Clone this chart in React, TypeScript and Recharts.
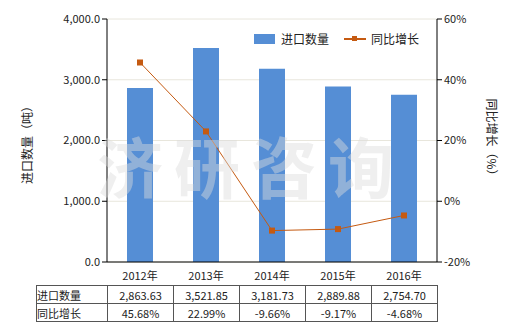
import React from "react"
import { Bar, CartesianGrid, ComposedChart, Line, XAxis, YAxis } from "recharts"

const years = ["2012年", "2013年", "2014年", "2015年", "2016年"]
const importQty = [2863.63, 3521.85, 3181.73, 2889.88, 2754.7]
const yoyGrowth = [45.68, 22.99, -9.66, -9.17, -4.68]
const qtyLabels = ["2,863.63", "3,521.85", "3,181.73", "2,889.88", "2,754.70"]
const growthLabels = ["45.68%", "22.99%", "-9.66%", "-9.17%", "-4.68%"]
const leftTicks = [0, 1000, 2000, 3000, 4000]
const rightTicks = [-20, 0, 20, 40, 60]

const data = years.map((year, i) => ({ year, qty: importQty[i], yoy: yoyGrowth[i] }))

const FONT = "'Noto Sans CJK SC', 'Noto Sans', sans-serif"
const BAR = "#558ed5"
const LINE = "#c55a11"

const SquareDot = (props: any) => {
  const { cx, cy } = props
  if (cx == null || cy == null) return null
  return <rect x={cx - 3} y={cy - 3} width={6} height={6} fill={LINE} />
}

const cellStyle: React.CSSProperties = {
  border: "1px solid #555",
  padding: 0,
  height: 17,
  textAlign: "center",
  fontSize: 11,
}

export default function App() {
  return (
    <div style={{ position: "absolute", left: 0, top: 0, width: 520, height: 330, background: "#fff", fontFamily: FONT, color: "#222" }}>
      <ComposedChart
        width={520}
        height={300}
        data={data}
        margin={{ top: 19, right: 0, left: 0, bottom: 20 }}
      >
        <CartesianGrid stroke="#e8e6dc" vertical={false} yAxisId="left" />
        <XAxis
          dataKey="year"
          height={18}
          tickLine={false}
          axisLine={{ stroke: "#000" }}
          tick={{ fill: "#222", fontSize: 11, fontFamily: FONT }}
          tickMargin={4}
        />
        <YAxis
          yAxisId="left"
          width={107}
          domain={[0, 4000]}
          ticks={leftTicks}
          tickFormatter={(v: number) => v.toLocaleString("en-US", { minimumFractionDigits: 1, maximumFractionDigits: 1 })}
          axisLine={{ stroke: "#000" }}
          tickLine={{ stroke: "#000" }}
          tickSize={5}
          tickMargin={2}
          tick={{ fill: "#222", fontSize: 11, fontFamily: FONT }}
        />
        <YAxis
          yAxisId="right"
          orientation="right"
          width={83}
          domain={[-20, 60]}
          ticks={rightTicks}
          tickFormatter={(v: number) => `${v}%`}
          axisLine={{ stroke: "#000" }}
          tickLine={{ stroke: "#000" }}
          tickSize={5}
          tickMargin={2}
          tick={{ fill: "#222", fontSize: 11, fontFamily: FONT }}
        />
        <Bar yAxisId="left" dataKey="qty" fill={BAR} barSize={26} isAnimationActive={false} />
        <Line
          yAxisId="right"
          dataKey="yoy"
          stroke={LINE}
          strokeWidth={1}
          dot={<SquareDot />}
          activeDot={false}
          isAnimationActive={false}
        />
      </ComposedChart>

      <svg width={520} height={330} style={{ position: "absolute", left: 0, top: 0, pointerEvents: "none" }}>
        <text x={97} y={193} fontSize={66} fontWeight="bold" fontFamily={FONT} fill="rgba(220,220,220,0.45)" letterSpacing={11}>
          济研咨询
        </text>
        <text
          transform="translate(32,142) rotate(-90)"
          textAnchor="middle"
          fontSize={12}
          fontFamily={FONT}
          fill="#222"
        >
          进口数量（吨）
        </text>
        <text
          transform="translate(487,140) rotate(90)"
          textAnchor="middle"
          fontSize={12}
          fontFamily={FONT}
          fill="#222"
        >
          同比增长（%）
        </text>
      </svg>

      <div style={{ position: "absolute", left: 254, top: 30, display: "flex", alignItems: "center", fontSize: 12 }}>
        <span style={{ display: "inline-block", width: 21, height: 10, background: BAR, marginRight: 6 }} />
        <span style={{ marginRight: 15 }}>进口数量</span>
        <span style={{ position: "relative", display: "inline-block", width: 22, height: 10, marginRight: 5 }}>
          <span style={{ position: "absolute", left: 0, top: 4, width: 22, height: 2, background: LINE }} />
          <span style={{ position: "absolute", left: 8, top: 2, width: 5, height: 5, background: LINE }} />
        </span>
        <span>同比增长</span>
      </div>

      <table style={{ position: "absolute", left: 36, top: 285, borderCollapse: "collapse", fontFamily: FONT, color: "#222" }}>
        <tbody>
          <tr>
            <td style={{ ...cellStyle, width: 70, textAlign: "left" }}>进口数量</td>
            {qtyLabels.map((s) => (
              <td key={s} style={{ ...cellStyle, width: 65 }}>{s}</td>
            ))}
          </tr>
          <tr>
            <td style={{ ...cellStyle, width: 70, textAlign: "left" }}>同比增长</td>
            {growthLabels.map((s) => (
              <td key={s} style={{ ...cellStyle, width: 65 }}>{s}</td>
            ))}
          </tr>
        </tbody>
      </table>
    </div>
  )
}
